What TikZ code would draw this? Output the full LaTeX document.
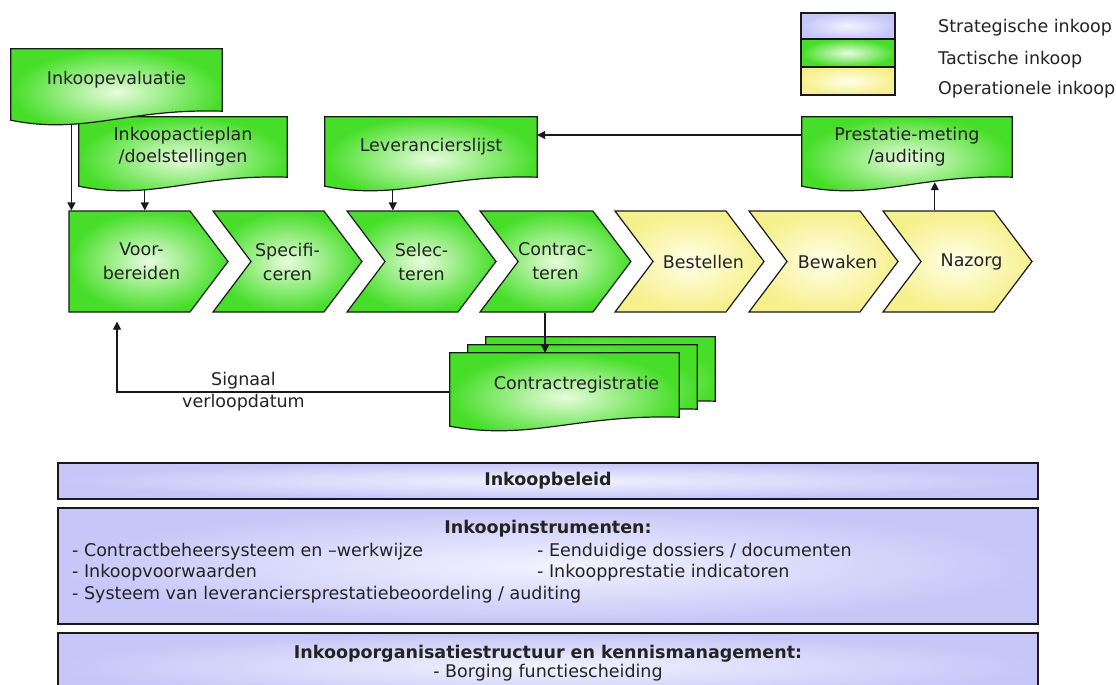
\documentclass[tikz,border=0pt]{standalone}
\usepackage{fontspec}
\setmainfont{DejaVu Sans}
\usetikzlibrary{shapes.symbols,arrows.meta,calc}
\pgfdeclarelayer{achter}
\pgfsetlayers{achter,main}

\definecolor{lijn}{RGB}{25,25,25}
\definecolor{tekst}{RGB}{35,35,35}
\definecolor{groen}{RGB}{70,222,40}
\definecolor{groenlicht}{RGB}{232,252,222}
\definecolor{geel}{RGB}{246,240,140}
\definecolor{geellicht}{RGB}{255,255,232}
\definecolor{paars}{RGB}{198,198,248}
\definecolor{paarslicht}{RGB}{242,242,255}

\tikzset{
	tactisch/.style={inner color=groenlicht,outer color=groen},
	operationeel/.style={inner color=geellicht,outer color=geel},
	strategisch/.style={inner color=paarslicht,outer color=paars},
	stap/.style={shape=signal,signal to=east,signal from=west,signal pointer angle=106,
		minimum height=101,minimum width=149,draw=lijn,line width=1.2pt,align=center,
		font=\fontsize{17.5}{24}\selectfont},
	doc/.style={rectangle,align=center},
	docrand/.style={draw=lijn,line width=1.2pt,tactisch},
	pijl/.style={draw=lijn,line width=1.2pt,-{Triangle[length=8pt,width=8pt]}},
	balk/.style={rectangle,draw=lijn,line width=1.5pt,strategisch,minimum width=980},
	legvak/.style={rectangle,draw=lijn,line width=1.2pt,minimum width=94},
}

% document met golvende onderkant rond een node
\newcommand{\docvorm}[1]{%
	\path[docrand] (#1.north west) -- (#1.north east) -- (#1.south east)
		.. controls ($(#1.south west)!0.55!(#1.south east)+(0,-3)$) and ($(#1.south west)!0.35!(#1.south east)+(0,24)$)
		.. ($(#1.south west)+(0,9)$) -- cycle;}
% tekst iets naar rechts, zonder de vorm te verbreden
\newcommand{\rechts}[1]{\makebox[0pt]{\hspace*{28pt}#1}}

\begin{document}
\begin{tikzpicture}[x=1pt,y=-1pt,inner sep=0pt,text=tekst,font=\fontsize{17.5}{22}\selectfont]
	\path[use as bounding box] (0,0) rectangle (1116,685);

	% legenda
	\node[legvak,strategisch,minimum height=26] (legstrat) at (848,26) {};
	\node[legvak,tactisch,minimum height=28] (legtact) at (848,53) {};
	\node[legvak,operationeel,minimum height=28] (legoper) at (848,81) {};
	\node[anchor=west] (legstrattxt) at (938,28) {Strategische inkoop};
	\node[anchor=west] (legtacttxt) at (938,60) {Tactische inkoop};
	\node[anchor=west] (legopertxt) at (938,90) {Operationele inkoop};

	% documenten
	\node[doc,minimum width=208,minimum height=60] (plan) at (183,147) {Inkoopactieplan\\/doelstellingen};
	\node[doc,minimum width=211,minimum height=62] (eval) at (116.5,80) {Inkoopevaluatie};
	\node[doc,minimum width=212,minimum height=60] (lijst) at (431,147) {Leverancierslijst};
	\node[doc,minimum width=210,minimum height=60] (prest) at (907,147) {Prestatie-meting\\/auditing};
	\node[doc,minimum width=229,minimum height=64] (reg3) at (600.5,369) {};
	\node[doc,minimum width=229,minimum height=64] (reg2) at (582.5,377) {};
	\node[doc,minimum width=229,minimum height=64] (reg) at (564.5,385) {\hspace*{24pt}Contractregistratie};
	\begin{pgfonlayer}{achter}
		\fill[white] (0,0) rectangle (1116,685);
		\docvorm{plan}
		\docvorm{eval}
		\docvorm{lijst}
		\docvorm{prest}
		\docvorm{reg3}
		\docvorm{reg2}
		\docvorm{reg}
	\end{pgfonlayer}

	% processtappen
	\node[stap,tactisch,signal from=nowhere,minimum width=159] (voor) at (129.5,261.5) {\hspace*{24pt}Voor-\\\hspace*{24pt}bereiden};
	\node[stap,tactisch] (spec) at (287.5,261.5) {Specifi-\\ceren};
	\node[stap,tactisch] (sel) at (421.5,261.5) {Selec-\\teren};
	\node[stap,tactisch] (contr) at (555.5,261.5) {Contrac-\\teren};
	\node[stap,operationeel] (best) at (689.5,261.5) {\rechts{Bestellen}};
	\node[stap,operationeel] (bew) at (823.5,261.5) {\rechts{Bewaken}};
	\node[stap,operationeel] (nazorg) at (957.5,261.5) {\rechts{Nazorg}};

	% verbindingen
	\draw[pijl] ($(voor.north west |- eval.south)+(3,13)$) -- ($(voor.north west)+(3,0)$);
	\draw[pijl] ($(plan.south west)+(66,13)$) coordinate (p) -- (p |- voor.north);
	\draw[pijl] ($(lijst.south west)+(68,13)$) coordinate (l) -- (l |- sel.north);
	\draw[pijl] ($(prest.west)+(0,-12)$) -- ($(lijst.east)+(0,-12)$);
	\draw[pijl] ($(prest.south west)+(133,5)$) coordinate (n) (n |- nazorg.north) -- (n);
	\draw[pijl] ($(contr.south)+(-10.5,0)$) coordinate (c) -- (c |- reg.north);
	\coordinate (sig) at ($(voor.south)+(-12.5,9)$);
	\draw[pijl] ($(reg.west)+(0,7)$) -| node[pos=0.31,align=center] (signaal) {Signaal\\verloopdatum} (sig);

	% beleid en instrumenten
	\node[balk,minimum height=36,font=\fontsize{17.5}{22}\selectfont\bfseries] (beleid) at (548,481) {Inkoopbeleid};
	\node[balk,minimum height=116] (instr) at (548,566) {};
	\node[font=\fontsize{17.5}{22}\selectfont\bfseries] (instrtitel) at (548,529) {Inkoopinstrumenten:};
	\node[anchor=west] (instr1) at (72,552) {- Contractbeheersysteem en –werkwijze};
	\node[anchor=west] (instr2) at (72,573) {- Inkoopvoorwaarden};
	\node[anchor=west] (instr3) at (72,595) {- Systeem van leveranciersprestatiebeoordeling / auditing};
	\node[anchor=west] (instr4) at (537,552) {- Eenduidige dossiers / documenten};
	\node[anchor=west] (instr5) at (537,573) {- Inkoopprestatie indicatoren};
	\node[balk,minimum height=67] (org) at (548,666.5) {};
	\node[font=\fontsize{17.5}{22}\selectfont\bfseries] (orgtitel) at (548,654) {Inkooporganisatiestructuur en kennismanagement:};
	\node (borging) at (548,673) {- Borging functiescheiding};
\end{tikzpicture}
\end{document}
